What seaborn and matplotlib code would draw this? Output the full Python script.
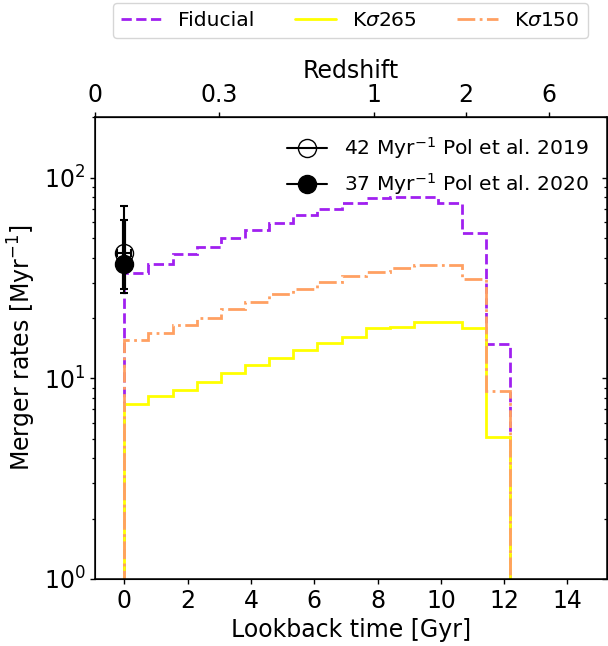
import numpy as np
import pandas as pd
import seaborn as sns
import matplotlib
matplotlib.use("Agg")
import matplotlib.pyplot as plt
from matplotlib.lines import Line2D

# ---- data ----
bin_edges = [0.0, 0.76, 1.52, 2.29, 3.05, 3.81, 4.57, 5.33, 6.10, 6.86,
             7.62, 8.38, 9.14, 9.91, 10.67, 11.43, 12.19]
fiducial = [33.5, 37.3, 41.5, 45.4, 49.9, 54.7, 59.7, 64.9, 70.3, 75.1,
            79.5, 80.5, 80.0, 74.8, 52.8, 14.9]
ksig265 = [7.47, 8.13, 8.74, 9.61, 10.7, 11.7, 12.7, 13.9, 15.1, 16.0,
           17.8, 18.1, 19.1, 19.1, 17.8, 5.09]
ksig150 = [15.5, 16.8, 18.4, 20.1, 22.1, 24.0, 26.5, 28.0, 30.3, 32.4,
           34.1, 35.7, 36.9, 36.8, 31.2, 8.7]

series_names = ["Fiducial", "K$\\sigma$265", "K$\\sigma$150"]
series_colors = ["#a020f0", "#ffff00", "#ffa062"]
series_styles = ["--", "-", "-."]

obs_labels = ["42 Myr$^{-1}$ Pol et al. 2019", "37 Myr$^{-1}$ Pol et al. 2020"]
obs_t = [0.0, 0.0]
obs_rate = [42.0, 37.0]
obs_err_lo = [15.4, 9.0]
obs_err_hi = [30.3, 24.5]
obs_terr = [0.22, 0.22]

z_ticklabels = ["0", "0.3", "1", "2", "6"]
z_tick_pos = [-0.93, 2.99, 7.89, 10.80, 13.42]

# ---- figure ----
sns.set_style("ticks", {"text.color": "black", "axes.labelcolor": "black",
                        "xtick.color": "black", "ytick.color": "black",
                        "axes.edgecolor": "black"})
plt.rcParams["font.family"] = ["DejaVu Sans"]
plt.rcParams["mathtext.fontset"] = "dejavusans"
FS = 17
LFS = 14.6

fig = plt.figure(figsize=(6.08, 6.46), dpi=100)
ax = fig.add_axes([95 / 608, 1 - 579 / 646, (606.7 - 95) / 608, (579 - 117) / 646])

centers = [(bin_edges[i] + bin_edges[i + 1]) / 2 for i in range(len(bin_edges) - 1)]
df = pd.DataFrame({"t": centers * 3,
                   "rate": fiducial + ksig265 + ksig150,
                   "model": sum([[n] * len(centers) for n in series_names], [])})

handles = []
for name, col, ls in zip(series_names, series_colors, series_styles):
    sub = df[df["model"] == name]
    ax.hist(sub["t"], bins=bin_edges, weights=sub["rate"], histtype="step",
            color=col, linestyle=ls, linewidth=2.0, log=True)
    handles.append(Line2D([], [], color=col, linestyle=ls, linewidth=2.0, label=name))

# observations
mfc = ["none", "black"]
elw = [1.5, 3.0]
obs_handles = []
for i in range(2):
    ax.errorbar([obs_t[i]], [obs_rate[i]],
                yerr=[[obs_err_lo[i]], [obs_err_hi[i]]],
                xerr=[[obs_terr[i]], [obs_terr[i]]],
                fmt="o", color="black", mfc=mfc[i], mec="black",
                ms=13, elinewidth=elw[i], capsize=2.7, capthick=1.5, zorder=5)
    obs_handles.append(Line2D([], [], color="black", marker="o", mfc=mfc[i],
                              mec="black", ms=13, linewidth=1.5, label=obs_labels[i]))

ax.set_yscale("log")
ax.set_xlim(-0.93, 15.24)
ax.set_ylim(1, 201)
ax.set_xticks([0, 2, 4, 6, 8, 10, 12, 14])
ax.set_xlabel("Lookback time [Gyr]", fontsize=FS)
ax.set_ylabel("Merger rates [Myr$^{-1}$]", fontsize=FS)
ax.tick_params(axis="both", which="major", labelsize=FS, direction="out",
               length=3.5, width=1.0)
ax.tick_params(axis="y", which="minor", direction="out", length=2.2, width=0.9)
for s in ax.spines.values():
    s.set_linewidth(1.1)
    s.set_color("black")

# right-side inward ticks
axr = ax.twinx()
axr.set_yscale("log")
axr.set_ylim(ax.get_ylim())
axr.tick_params(axis="y", which="both", direction="in", labelright=False)
axr.tick_params(axis="y", which="major", length=3.5, width=1.0)
axr.tick_params(axis="y", which="minor", length=2.2, width=0.9)

# top redshift axis
sec = ax.secondary_xaxis("top")
sec.set_xticks(z_tick_pos)
sec.set_xticklabels(z_ticklabels)
sec.tick_params(labelsize=FS, length=3.5, width=1.0, direction="out")
sec.set_xlabel("Redshift", fontsize=FS)

ax.legend(handles=obs_handles, loc="upper right", frameon=False, fontsize=LFS,
          handlelength=2.0)
fig.legend(handles=handles, loc="upper center", ncol=3, fontsize=LFS,
           bbox_to_anchor=(350.5 / 608, 1 - 3 / 646), borderaxespad=0)

fig.savefig("out.png", dpi=100)
